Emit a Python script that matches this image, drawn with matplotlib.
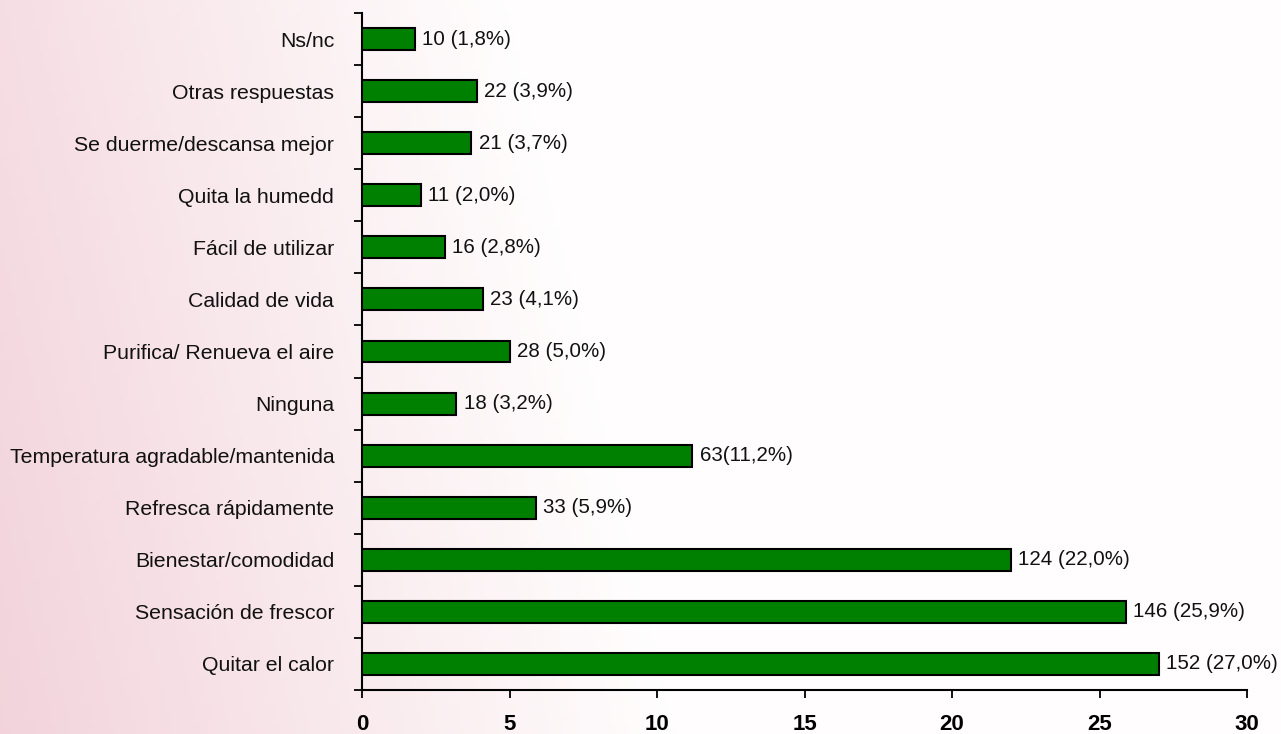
import matplotlib
matplotlib.use("Agg")
import matplotlib.pyplot as plt
import numpy as np
from matplotlib.ticker import FixedLocator, NullFormatter

categories = ["Ns/nc", "Otras respuestas", "Se duerme/descansa mejor", "Quita la humedd",
              "Fácil de utilizar", "Calidad de vida", "Purifica/ Renueva el aire", "Ninguna",
              "Temperatura agradable/mantenida", "Refresca rápidamente", "Bienestar/comodidad",
              "Sensación de frescor", "Quitar el calor"]
counts = [10, 22, 21, 11, 16, 23, 28, 18, 63, 33, 124, 146, 152]
percents = [1.8, 3.9, 3.7, 2.0, 2.8, 4.1, 5.0, 3.2, 11.2, 5.9, 22.0, 25.9, 27.0]
x_ticks = [0, 5, 10, 15, 20, 25, 30]

labels = []
for c, p in zip(counts, percents):
    sep = "" if c == 63 else " "
    labels.append(f"{c}{sep}({p:.1f}%)".replace(".", ","))

narrow = ["Liberation Sans Narrow", "Liberation Sans", "DejaVu Sans"]

fig = plt.figure(figsize=(12.81, 7.34), dpi=100)

# background gradient (pink left -> white right)
bg = fig.add_axes([0, 0, 1, 1], zorder=-10)
gx = np.linspace(0, 1, 256)
gy = np.linspace(0, 1, 128)
X, Y = np.meshgrid(gx, gy)
left = np.array([0.95, 0.83, 0.86])
right = np.array([1.0, 0.995, 0.995])
w = np.clip(X * 1.9 + (1 - Y) * 0.25, 0, 1)[:, :, None]
img = left[None, None, :] * (1 - w) + right[None, None, :] * w
bg.imshow(img, aspect="auto", extent=[0, 1, 0, 1], origin="upper")
bg.axis("off")

ax = fig.add_axes([362/1281, 1 - 690/734, (1247-362)/1281, (690-13)/734])
ax.set_facecolor("none")

n = len(categories)
ypos = np.arange(n)[::-1]
ax.barh(ypos, percents, height=0.42, color="#008000", edgecolor="black", linewidth=1.5, zorder=3)

for y, v, lab in zip(ypos, percents, labels):
    ax.text(v + 0.25, y, lab, va="center", ha="left", fontsize=14.8, family=narrow, color="#111111")

ax.set_xlim(0, 30)
ax.set_ylim(-0.5, n - 0.5)
ax.set_yticks(ypos)
ax.set_yticklabels(categories, fontsize=15.3, family=narrow, color="#111111")
ax.tick_params(axis="y", which="major", length=0, pad=20)
ax.yaxis.set_minor_locator(FixedLocator(np.arange(-0.5, n, 1.0)))
ax.yaxis.set_minor_formatter(NullFormatter())
ax.tick_params(axis="y", which="minor", length=6, width=1.3, direction="out", color="black")

ax.set_xticks(x_ticks)
ax.set_xticklabels([str(t) for t in x_ticks], fontsize=16, fontweight="bold",
                   family=["Liberation Sans", "DejaVu Sans"])
ax.tick_params(axis="x", length=6, width=1.3, direction="out", pad=11)

for s in ["top", "right"]:
    ax.spines[s].set_visible(False)
for s in ["left", "bottom"]:
    ax.spines[s].set_linewidth(1.5)
    ax.spines[s].set_color("black")

fig.savefig("out.png", dpi=100)
